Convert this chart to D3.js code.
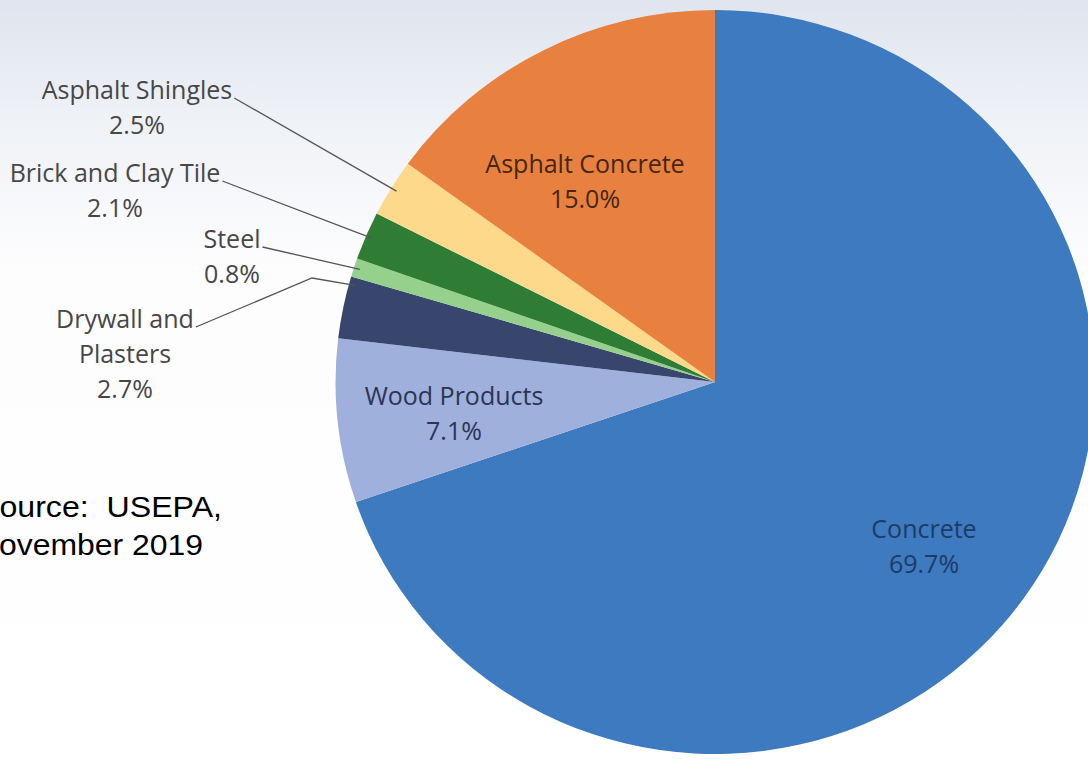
<!DOCTYPE html>
<html>
<head>
<meta charset="utf-8">
<script src="https://cdn.jsdelivr.net/npm/d3@7"></script>
<style>
  body { margin: 0; background: #fff; }
  svg { display: block; }
  .lbl { font-family: "Open Sans", "Noto Sans", sans-serif; font-size: 25px; }
  .src { font-family: "Liberation Sans", Arial, sans-serif; font-size: 29px; white-space: pre; }
</style>
</head>
<body>
<div id="chart"></div>
<script>
// chart data, clockwise from 12 o'clock
var categories = ["Concrete", "Wood Products", "Drywall and Plasters", "Steel",
                  "Brick and Clay Tile", "Asphalt Shingles", "Asphalt Concrete"];
var shares = [69.7, 7.1, 2.7, 0.8, 2.1, 2.5, 15.0];
var labelText = [["Concrete"], ["Wood Products"], ["Drywall and", "Plasters"], ["Steel"],
                 ["Brick and Clay Tile"], ["Asphalt Shingles"], ["Asphalt Concrete"]];
var sourceLines = ["Source:  USEPA,", "November 2019"];

var colors = ["#3d7abf", "#9fb0dc", "#38466e", "#95d18d", "#2f7d34", "#fdd98b", "#e8813f"];
var textColors = ["#1e3a66", "#2b3553", "#474747", "#474747", "#474747", "#474747", "#47260f"];

var svgWidth = 1088;
var svgHeight = 759;

// pie geometry
var cx = 715, cy = 382, radius = 372, stretchX = 1.02;

// label layout: centre x, first baseline, outside?, where on the slice the leader ends (0..1)
var labelPos = [
  {x: 924, y: 538, outside: false},
  {x: 454, y: 405, outside: false},
  {x: 125, y: 328, outside: true, f: 0.88, bend: [312, 278]},
  {x: 232, y: 248, outside: true, f: 0.5},
  {x: 115, y: 182, outside: true, f: 0.5},
  {x: 137, y: 99, outside: true, f: 0.5},
  {x: 585, y: 173, outside: false}
];
var lineGap = 35;

var svg = d3.select("#chart")
  .append("svg")
  .attr("width", svgWidth)
  .attr("height", svgHeight);

// background wash, bluish at the top
var grad = svg.append("defs").append("linearGradient")
  .attr("id", "bg").attr("x1", 0).attr("y1", 0).attr("x2", 0).attr("y2", 1);
grad.append("stop").attr("offset", "0").attr("stop-color", "#dfe5ee");
grad.append("stop").attr("offset", "0.15").attr("stop-color", "#eef1f6");
grad.append("stop").attr("offset", "0.35").attr("stop-color", "#fdfdfe");
grad.append("stop").attr("offset", "1").attr("stop-color", "#ffffff");
svg.append("rect").attr("width", svgWidth).attr("height", svgHeight).attr("fill", "url(#bg)");

var data = categories.map(function(c, i) { return {name: c, value: shares[i], i: i}; });

var pie = d3.pie().sort(null).value(function(d) { return d.value; });
var arcs = pie(data);

var arc = d3.arc().innerRadius(0).outerRadius(radius);

var pieGroup = svg.append("g")
  .attr("transform", "translate(" + cx + "," + cy + ") scale(" + stretchX + ",1)");

pieGroup.selectAll("path")
  .data(arcs)
  .enter()
  .append("path")
  .attr("d", arc)
  .attr("fill", function(d) { return colors[d.data.i]; });

// point on the rim of a slice
function rimPoint(d, f, r) {
  var a = d.startAngle + f * (d.endAngle - d.startAngle);
  return [cx + Math.sin(a) * r * stretchX, cy - Math.cos(a) * r];
}

var fmt = d3.format(".1f");
var labels = svg.append("g");

arcs.forEach(function(d) {
  var i = d.data.i;
  var p = labelPos[i];
  var lines = labelText[i].concat([fmt(d.data.value) + "%"]);
  var t = labels.append("text")
    .attr("class", "lbl")
    .attr("text-anchor", "middle")
    .attr("fill", textColors[i]);
  lines.forEach(function(s, k) {
    t.append("tspan").attr("x", p.x).attr("y", p.y + k * lineGap).text(s);
  });

  if (p.outside) {
    // leader from the end of the first text line to the slice
    var first = t.select("tspan").node();
    var w = first.getComputedTextLength();
    var start = [p.x + w / 2 + 2, p.y - 1];
    var end = rimPoint(d, p.f, radius - 6);
    var pts = [start];
    if (p.bend) pts.push(p.bend);
    pts.push(end);
    labels.append("path")
      .attr("d", d3.line()(pts))
      .attr("fill", "none")
      .attr("stroke", "#555")
      .attr("stroke-width", 1.3);
  }
});

// source note, partly cut off at the left edge (as in the original slide)
svg.append("text")
  .attr("class", "src")
  .attr("x", -22).attr("y", 517)
  .attr("textLength", 244).attr("lengthAdjust", "spacingAndGlyphs")
  .attr("fill", "#000")
  .text(sourceLines[0]);
svg.append("text")
  .attr("class", "src")
  .attr("x", -24).attr("y", 555)
  .attr("textLength", 227).attr("lengthAdjust", "spacingAndGlyphs")
  .attr("fill", "#000")
  .text(sourceLines[1]);
</script>
</body>
</html>
